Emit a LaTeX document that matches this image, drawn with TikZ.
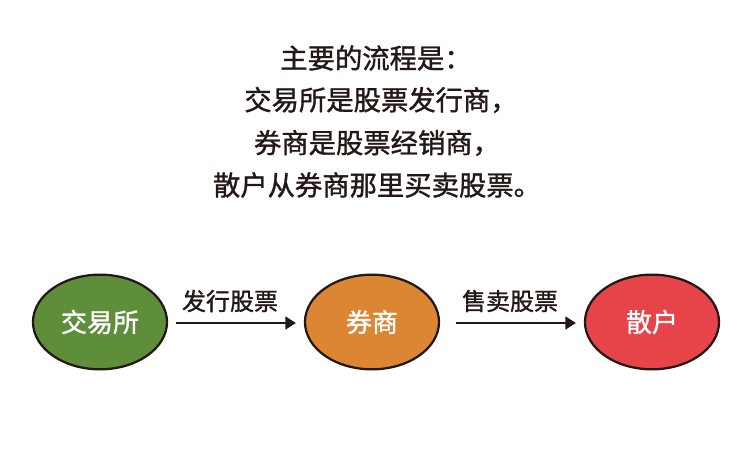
\documentclass[tikz,border=0pt]{standalone}
\usepackage{fontspec}
\setmainfont{Noto Sans CJK SC}
\newfontfamily\cjk[FakeBold=1.2]{Noto Sans CJK SC}
\usetikzlibrary{arrows.meta,shapes.geometric}
\definecolor{ink}{HTML}{231815}
\definecolor{cgreen}{HTML}{5F8E3A}
\definecolor{corange}{HTML}{DC8634}
\definecolor{cred}{HTML}{E64448}
\tikzset{
  blob/.style={ellipse, draw=ink, line width=1.7pt, minimum width=100.5pt, minimum height=71pt, inner sep=0pt, text=white, font=\cjk\fontsize{19.5}{22}\selectfont},
  flow/.style={draw=ink, line width=2pt, -{Triangle[length=8pt,width=9.5pt]}},
  lbl/.style={text=ink, font=\cjk\fontsize{18}{20}\selectfont, inner sep=0pt},
  title/.style={text=ink, font=\cjk\fontsize{20.5}{24}\selectfont, inner sep=0pt}
}
\begin{document}
\begin{tikzpicture}[x=0.75pt,y=-0.75pt]
\useasboundingbox (0,0) rectangle (750,467);
\fill[white] (0,0) rectangle (750,467);
\node[title] (t1) at (376,58) {主要的流程是：};
\node[title] (t2) at (381,100) {交易所是股票发行商，};
\node[title] (t3) at (377,143) {券商是股票经销商，};
\node[title] (t4) at (377,185) {散户从券商那里买卖股票。};
\node[blob, fill=cgreen] (a) at (100,322) {交易所};
\node[blob, fill=corange] (b) at (372,322) {券商};
\node[blob, fill=cred] (c) at (652,322) {散户};
\coordinate (a1) at (176,323);
\coordinate (a2) at (296,323);
\coordinate (b1) at (456,323);
\coordinate (b2) at (576,323);
\draw[flow] (a1) -- (a2);
\draw[flow] (b1) -- (b2);
\node[lbl] (l1) at (230,301) {发行股票};
\node[lbl] (l2) at (510,301) {售卖股票};
\end{tikzpicture}
\end{document}
